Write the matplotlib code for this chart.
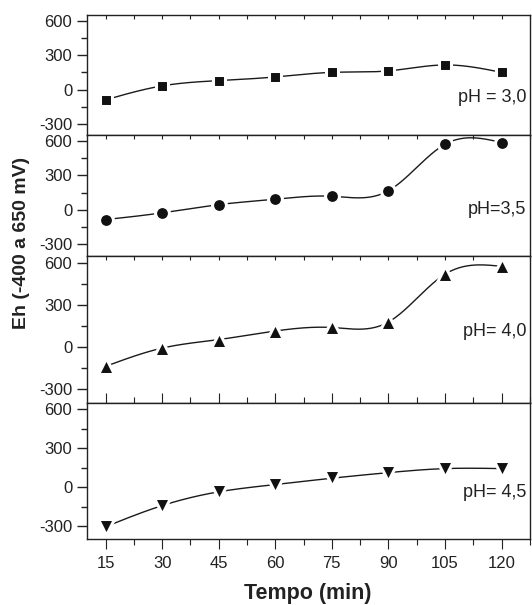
import numpy as np
import matplotlib
matplotlib.use('Agg')
import matplotlib.pyplot as plt
from matplotlib.ticker import MultipleLocator

plt.rcParams['font.family'] = ['Liberation Sans', 'DejaVu Sans']
plt.rcParams['axes.unicode_minus'] = False

tempo = [15, 30, 45, 60, 75, 90, 105, 120]
eh_30 = [-90, 32, 78, 110, 150, 163, 215, 150]
eh_35 = [-86, -27, 45, 92, 118, 166, 572, 587]
eh_40 = [-140, -10, 51, 112, 137, 176, 517, 573]
eh_45 = [-305, -142, -36, 20, 69, 112, 143, 143]
rotulos = ['pH = 3,0', 'pH=3,5', 'pH= 4,0', 'pH= 4,5']
marcadores = ['s', 'o', '^', 'v']
tamanhos = [9, 10, 11, 11]
rotulo_y = [-70, 0, 105, -40]


def spline(x, y, n=300):
    # spline cubica natural, so para suavizar a linha
    x = np.asarray(x, float)
    y = np.asarray(y, float)
    k = len(x)
    h = np.diff(x)
    A = np.zeros((k, k))
    b = np.zeros(k)
    A[0, 0] = A[-1, -1] = 1
    for i in range(1, k - 1):
        A[i, i - 1] = h[i - 1]
        A[i, i] = 2 * (h[i - 1] + h[i])
        A[i, i + 1] = h[i]
        b[i] = 6 * ((y[i + 1] - y[i]) / h[i] - (y[i] - y[i - 1]) / h[i - 1])
    M = np.linalg.solve(A, b)
    xs = np.linspace(x[0], x[-1], n)
    idx = np.clip(np.searchsorted(x, xs) - 1, 0, k - 2)
    x0, x1 = x[idx], x[idx + 1]
    hh = x1 - x0
    ys = (M[idx] * (x1 - xs) ** 3 / (6 * hh) + M[idx + 1] * (xs - x0) ** 3 / (6 * hh)
          + (y[idx] / hh - M[idx] * hh / 6) * (x1 - xs)
          + (y[idx + 1] / hh - M[idx + 1] * hh / 6) * (xs - x0))
    return xs, ys


fig, axs = plt.subplots(4, 1, figsize=(5.32, 6.05), dpi=100, sharex=True,
                        gridspec_kw={'height_ratios': [120, 120, 147, 136], 'hspace': 0})
fig.subplots_adjust(left=0.163, right=0.996, top=0.975, bottom=0.109)

series = [eh_30, eh_35, eh_40, eh_45]
for ax, eh, lab, m, ms, ly in zip(axs, series, rotulos, marcadores, tamanhos, rotulo_y):
    xs, ys = spline(tempo, eh)
    ax.plot(xs, ys, color='#1a1a1a', lw=1.0)
    ax.plot(tempo, eh, m, color='#111111', ms=ms, mec='white', mew=2.2)
    ax.set_xlim(10, 127.5)
    ax.set_ylim(-400, 650)
    ax.yaxis.set_major_locator(MultipleLocator(300))
    ax.yaxis.set_minor_locator(MultipleLocator(150))
    ax.xaxis.set_major_locator(MultipleLocator(15))
    ax.xaxis.set_minor_locator(MultipleLocator(7.5))
    ax.set_yticks([-300, 0, 300, 600])
    ax.tick_params(axis='y', which='major', direction='out', length=7, width=1,
                   labelsize=12, colors='#222222')
    ax.tick_params(axis='y', which='minor', direction='out', length=4, width=1, colors='#222222')
    ax.tick_params(axis='x', which='both', top=True, bottom=False, direction='in',
                   length=3, width=0.8, colors='#222222')
    for s in ax.spines.values():
        s.set_linewidth(1.0)
        s.set_color('#222222')
    ax.text(126.5, ly, lab, ha='right', va='center', fontsize=13, color='#222222')

axb = axs[-1]
axb.tick_params(axis='x', which='major', bottom=True, direction='out', length=7,
                labelsize=12, labelbottom=True, pad=5)
axb.tick_params(axis='x', which='minor', bottom=True, direction='out', length=4)
axb.set_xticks(tempo)
fig.text(0.578, 0.019, 'Tempo (min)', ha='center', va='center',
         fontsize=15.5, fontweight='bold', color='#222222')
fig.text(0.041, 0.598, 'Eh (-400 a 650 mV)', rotation=90, ha='center', va='center',
         fontsize=14, fontweight='bold', color='#222222')

plt.savefig('out.png', dpi=100)
